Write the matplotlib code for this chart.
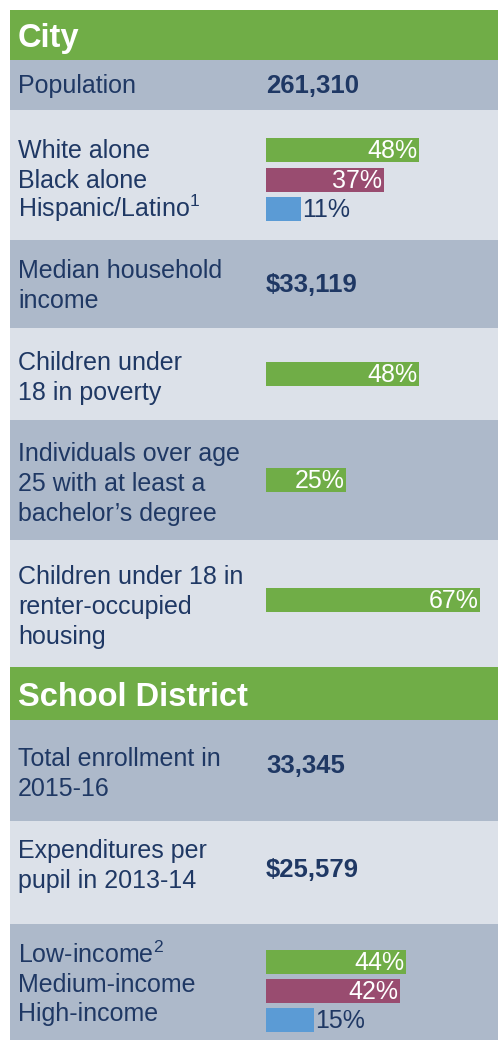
import matplotlib.pyplot as plt
import matplotlib.transforms as mtransforms

# city profile
population = "261,310"
race_labels = ["White alone", "Black alone", "Hispanic/Latino$^{1}$"]
race_values = [48, 37, 11]
median_income = "$33,119"
child_poverty = 48
bachelors_degree = 25
renter_housing = 67

# school district profile
enrollment = "33,345"
expenditure = "$25,579"
income_labels = ["Low-income$^{2}$", "Medium-income", "High-income"]
income_values = [44, 42, 15]

GREEN = "#70ad47"
MAROON = "#994c70"
BLUE = "#5b9bd5"
DARK_ROW = "#adb9ca"
LIGHT_ROW = "#dce1e9"
TEXT = "#1f3864"
group_colors = [GREEN, MAROON, BLUE]

plt.rcParams['font.family'] = ['Liberation Sans', 'DejaVu Sans']
plt.rcParams['mathtext.fontset'] = 'custom'
plt.rcParams['mathtext.rm'] = 'Liberation Sans'

W, H = 498, 1040
fig = plt.figure(figsize=(W / 100, H / 100), dpi=100)
ax = fig.add_axes([0, 0, 1, 1])

# x in percent, bars start at pixel 266, ~3.19 px per percent
px_per_pct = 3.19
ax.set_xlim(-266 / px_per_pct, (W - 266) / px_per_pct)
ax.set_ylim(H, 0)
ax.axis("off")

LABEL_X = 18 / W
blend = mtransforms.blended_transform_factory(ax.transAxes, ax.transData)
FS = 18
BAR_H = 23.5


def band(top, bottom, color):
    ax.axhspan(top, bottom, xmin=10 / W, xmax=1, color=color, lw=0, zorder=0)


def header(top, bottom, title):
    band(top, bottom, GREEN)
    ax.text(LABEL_X, (top + bottom) / 2 + 4, title, transform=blend, ha="left",
            va="center", color="white", fontsize=23.5, fontweight="bold")


def label(y, txt):
    ax.text(LABEL_X, y, txt, transform=blend, ha="left", va="center",
            color=TEXT, fontsize=FS, linespacing=1.3)


def line_label(baseline, txt):
    ax.text(LABEL_X, baseline, txt, transform=blend, ha="left",
            va="baseline", color=TEXT, fontsize=FS)


def value(y, txt):
    ax.text(0, y, txt, ha="left", va="center", color=TEXT, fontsize=18.5,
            fontweight="bold")


def bars(ys, vals, colors):
    ax.barh(ys, vals, height=BAR_H, left=0, color=colors, zorder=2)
    for y, v in zip(ys, vals):
        if v >= 20:
            ax.text(v - 0.5, y + 1, f"{v}%", ha="right", va="center",
                    color="white", fontsize=FS, zorder=3)
        else:
            ax.text(v + 0.3, y + 1, f"{v}%", ha="left", va="center",
                    color=TEXT, fontsize=FS, zorder=3)


# City section
header(10, 60, "City")

band(60, 110, DARK_ROW)
label(86, "Population")
value(86, population)

band(110, 240, LIGHT_ROW)
race_y = [150, 180, 209]
for y, t in zip(race_y, race_labels):
    line_label(y + 8, t)
bars(race_y, race_values, group_colors)

band(240, 328, DARK_ROW)
label(286, "Median household\nincome")
value(285, median_income)

band(328, 420, LIGHT_ROW)
label(378, "Children under\n18 in poverty")
bars([374], [child_poverty], [GREEN])

band(420, 540, DARK_ROW)
label(484, "Individuals over age\n25 with at least a\nbachelor\u2019s degree")
bars([480], [bachelors_degree], [GREEN])

band(540, 667, LIGHT_ROW)
label(607, "Children under 18 in\nrenter-occupied\nhousing")
bars([600], [renter_housing], [GREEN])

# School district section
header(667, 720, "School District")

band(720, 821, DARK_ROW)
label(774, "Total enrollment in\n2015-16")
value(766, enrollment)

band(821, 924, LIGHT_ROW)
label(866, "Expenditures per\npupil in 2013-14")
value(870, expenditure)

band(924, H, DARK_ROW)
income_y = [962, 991, 1020]
for y, t in zip(income_y, income_labels):
    line_label(y + 1, t)
bars(income_y, income_values, group_colors)

fig.savefig("out.png", dpi=100)
